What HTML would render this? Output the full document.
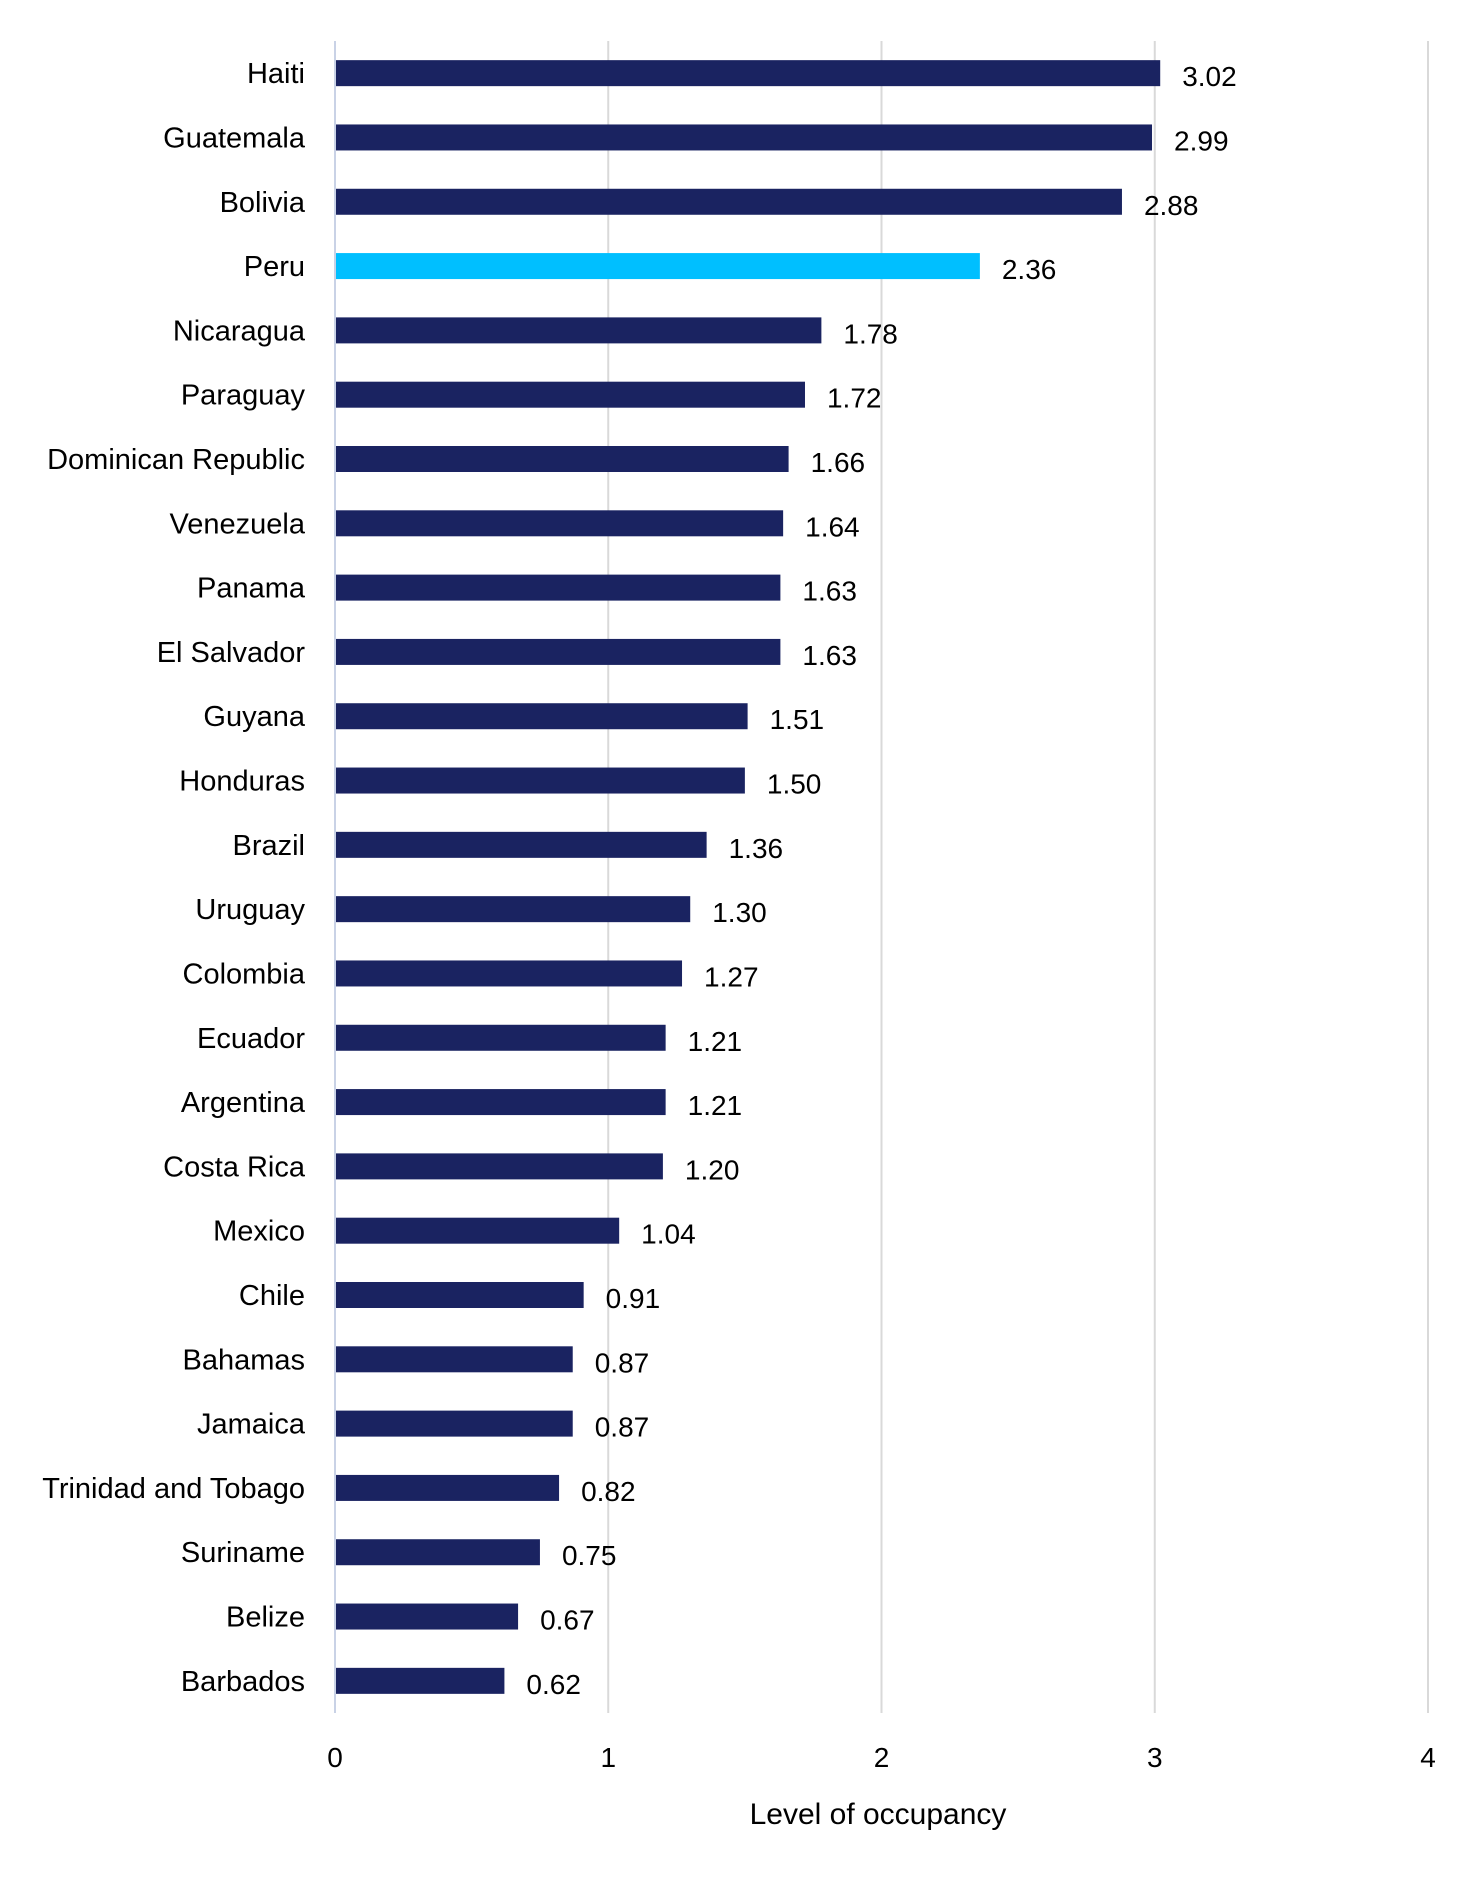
<!DOCTYPE html>
<html><head><meta charset="utf-8"><style>
html,body{margin:0;padding:0;background:#fff;}
svg{display:block;font-family:"Liberation Sans",sans-serif;}
</style></head><body>
<svg id="chart" width="1479" height="1879" viewBox="0 0 1479 1879">
<g id="grid"></g>
<g id="bars"></g>
<g id="ylabels"></g>
<g id="vlabels"></g>
<g id="xticks"></g>
<text x="878" y="1824" font-size="30" text-anchor="middle" fill="#000">Level of occupancy</text>
</svg>
<script>
const categories = ["Haiti","Guatemala","Bolivia","Peru","Nicaragua","Paraguay","Dominican Republic","Venezuela","Panama","El Salvador","Guyana","Honduras","Brazil","Uruguay","Colombia","Ecuador","Argentina","Costa Rica","Mexico","Chile","Bahamas","Jamaica","Trinidad and Tobago","Suriname","Belize","Barbados"];
const values = [3.02,2.99,2.88,2.36,1.78,1.72,1.66,1.64,1.63,1.63,1.51,1.50,1.36,1.30,1.27,1.21,1.21,1.20,1.04,0.91,0.87,0.87,0.82,0.75,0.67,0.62];
const highlight = "Peru";
const xTicks = [0,1,2,3,4];

const NS = "http://www.w3.org/2000/svg";
const x0 = 335, x1 = 1428, yTop = 41, yBottom = 1713;
const xs = v => x0 + (v / 4) * (x1 - x0);
const band = (yBottom - yTop) / categories.length;
const yc = i => yTop + band * (i + 0.5);
function mk(tag, attrs, parent) {
  const e = document.createElementNS(NS, tag);
  for (const k in attrs) e.setAttribute(k, attrs[k]);
  parent.appendChild(e);
  return e;
}
const grid = document.getElementById('grid');
const bars = document.getElementById('bars');
const yl = document.getElementById('ylabels');
const vl = document.getElementById('vlabels');
const xt = document.getElementById('xticks');

xTicks.forEach(t => {
  const l = mk('line', {x1: xs(t), x2: xs(t), y1: yTop, y2: yBottom, stroke: t === 0 ? '#c9d2e6' : '#d9d9d9', 'stroke-width': 2}, grid);
  
  
  const tx = mk('text', {x: xs(t), y: 1767, 'font-size': 28, 'text-anchor': 'middle', fill: '#000'}, xt);
  tx.textContent = t;
  
  
});

categories.forEach((c, i) => {
  const v = values[i];
  const slug = c.toLowerCase().replace(/\s+/g, '-');
  const r = mk('rect', {x: xs(0) + 1, y: yc(i) - 13, width: xs(v) - xs(0) - 1, height: 26, fill: c === highlight ? '#00bfff' : '#1a2361'}, bars);
  
  
  const lab = mk('text', {x: 305, y: yc(i) + 10, 'font-size': 29, 'text-anchor': 'end', fill: '#000'}, yl);
  lab.textContent = c;
  
  
  const val = mk('text', {x: xs(v) + 22, y: yc(i) + 13, 'font-size': 28, fill: '#000'}, vl);
  val.textContent = v.toFixed(2);
  
  
});
</script>
</body></html>
